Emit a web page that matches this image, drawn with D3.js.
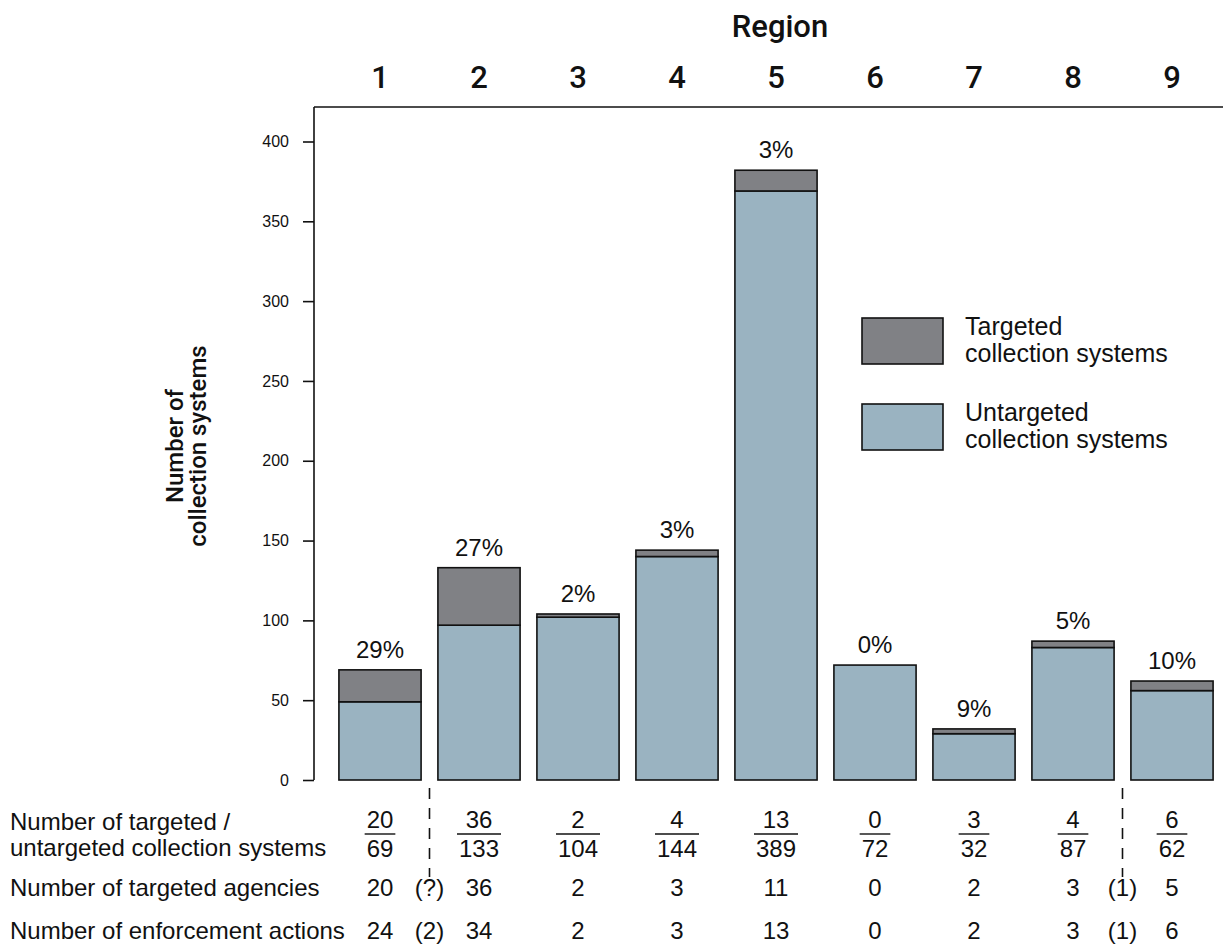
<!DOCTYPE html>
<html><head><meta charset="utf-8">
<script src="https://cdn.jsdelivr.net/npm/d3@7"></script>
<style>body{margin:0;background:#fff}svg{display:block}text{font-family:"Liberation Sans",Arial,sans-serif;fill:#111}</style>
</head><body><svg id="c" width="1223" height="946"></svg>
<script>
const regions = ["1","2","3","4","5","6","7","8","9"];
const barTotal = [69,133,104,144,382,72,32,87,62];
const targeted = [20,36,2,4,13,0,3,4,6];
const pctLabels = ["29%","27%","2%","3%","3%","0%","9%","5%","10%"];
const fracNum = ["20","36","2","4","13","0","3","4","6"];
const fracDen = ["69","133","104","144","389","72","32","87","62"];
const agencies = ["20","36","2","3","11","0","2","3","5"];
const actions = ["24","34","2","3","13","0","2","3","6"];
const yTicks = [0,50,100,150,200,250,300,350,400];
const colTargeted = "#808185", colUntargeted = "#9ab3c1";

const svg = d3.select("#c");
const x = d3.scaleBand().domain(regions).range([330.5,1221.5]).paddingInner(0.17).paddingOuter(0.085);
const y = d3.scaleLinear().domain([0,400]).range([780,141.5]);
const cx = r => x(r) + x.bandwidth()/2;
const headFont = "Roboto, sans-serif";

// frame
svg.append("line").attr("x1",314).attr("x2",1223).attr("y1",107).attr("y2",107).attr("stroke","#111").attr("stroke-width",1.6);
svg.append("line").attr("x1",314).attr("x2",314).attr("y1",107).attr("y2",y(0)).attr("stroke","#111").attr("stroke-width",1.6);

// y axis
const yAx = svg.append("g").attr("transform","translate(314,0)").call(d3.axisLeft(y).tickValues(yTicks).tickSize(11).tickPadding(14));
yAx.select(".domain").remove();
yAx.selectAll(".tick line").attr("stroke","#111").attr("stroke-width",1.6);
yAx.selectAll(".tick text").attr("font-size",16).attr("font-family","Liberation Sans, Arial, sans-serif").attr("fill","#222");

// y title
const yt = svg.append("text").attr("transform","rotate(-90)").attr("text-anchor","middle")
  .style("font-family",headFont).attr("font-weight",500).attr("font-size",24);
yt.append("tspan").attr("x",-446).attr("y",183).text("Number of");
yt.append("tspan").attr("x",-446).attr("y",206).text("collection systems");

// top header
svg.append("text").attr("x",780).attr("y",37).attr("text-anchor","middle").style("font-family",headFont).attr("font-weight",500).attr("font-size",31).text("Region");
svg.selectAll(".hdr").data(regions).join("text").attr("x",d=>cx(d)).attr("y",88).attr("text-anchor","middle")
  .style("font-family",headFont).attr("font-weight",500).attr("font-size",31).text(d=>d);

// bars
const data = regions.map((r,i)=>({r, total:barTotal[i], t:targeted[i], u:barTotal[i]-targeted[i], pct:pctLabels[i]}));
const g = svg.append("g");
g.selectAll(".u").data(data).join("rect").attr("x",d=>x(d.r)).attr("width",x.bandwidth())
  .attr("y",d=>y(d.u)).attr("height",d=>y(0)-y(d.u)).attr("fill",colUntargeted).attr("stroke","#111").attr("stroke-width",1.6);
g.selectAll(".t").data(data.filter(d=>d.t>0)).join("rect").attr("x",d=>x(d.r)).attr("width",x.bandwidth())
  .attr("y",d=>y(d.total)).attr("height",d=>y(d.u)-y(d.total)).attr("fill",colTargeted).attr("stroke","#111").attr("stroke-width",1.6);
g.selectAll(".p").data(data).join("text").attr("x",d=>cx(d.r)).attr("y",d=>y(d.total)-12).attr("text-anchor","middle").attr("font-size",24).text(d=>d.pct);

// legend
const leg = [{lab:["Targeted","collection systems"],c:colTargeted,y:318},{lab:["Untargeted","collection systems"],c:colUntargeted,y:404}];
leg.forEach(l=>{
  svg.append("rect").attr("x",862).attr("y",l.y).attr("width",81).attr("height",46).attr("fill",l.c).attr("stroke","#111").attr("stroke-width",1.6);
  const t = svg.append("text").attr("font-size",25);
  t.append("tspan").attr("x",965).attr("y",l.y+17).text(l.lab[0]);
  t.append("tspan").attr("x",965).attr("y",l.y+44).text(l.lab[1]);
});

// dashed separators
[ (x(regions[0])+x.bandwidth()+x(regions[1]))/2, (x(regions[7])+x.bandwidth()+x(regions[8]))/2 ].forEach(xx=>{
  svg.append("line").attr("x1",xx).attr("x2",xx).attr("y1",788).attr("y2",877).attr("stroke","#111").attr("stroke-width",1.6).attr("stroke-dasharray","11,9");
});

// bottom table
const fs = 24;
svg.append("text").attr("x",10).attr("y",830).attr("font-size",fs).text("Number of targeted /");
svg.append("text").attr("x",10).attr("y",856).attr("font-size",fs).text("untargeted collection systems");
svg.append("text").attr("x",10).attr("y",896).attr("font-size",fs).text("Number of targeted agencies");
svg.append("text").attr("x",10).attr("y",939).attr("font-size",fs).text("Number of enforcement actions");

regions.forEach((r,i)=>{
  const c = cx(r);
  const tn = svg.append("text").attr("x",c).attr("y",828).attr("text-anchor","middle").attr("font-size",fs).text(fracNum[i]);
  const td = svg.append("text").attr("x",c).attr("y",857).attr("text-anchor","middle").attr("font-size",fs).text(fracDen[i]);
  const w = Math.max(tn.node().getComputedTextLength(), td.node().getComputedTextLength()) + 4;
  svg.append("line").attr("x1",c-w/2).attr("x2",c+w/2).attr("y1",834).attr("y2",834).attr("stroke","#111").attr("stroke-width",1.4);
  svg.append("text").attr("x",c).attr("y",896).attr("text-anchor","middle").attr("font-size",fs).text(agencies[i]);
  svg.append("text").attr("x",c).attr("y",939).attr("text-anchor","middle").attr("font-size",fs).text(actions[i]);
});
// parenthetical notes
const notes = [{after:0, ag:"(?)", ac:"(2)"},{after:7, ag:"(1)", ac:"(1)"}];
notes.forEach(n=>{
  const xx = (x(regions[n.after])+x.bandwidth()+x(regions[n.after+1]))/2;
  svg.append("text").attr("x",xx).attr("y",896).attr("text-anchor","middle").attr("font-size",fs).text(n.ag);
  svg.append("text").attr("x",xx).attr("y",939).attr("text-anchor","middle").attr("font-size",fs).text(n.ac);
});
</script></body></html>
